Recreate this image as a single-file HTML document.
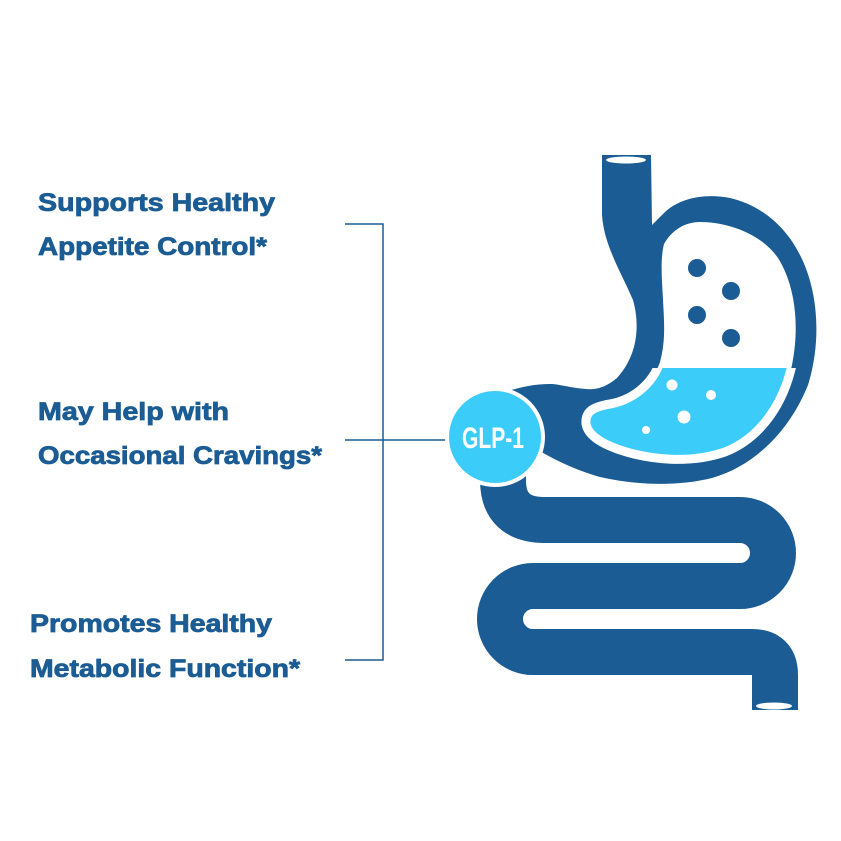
<!DOCTYPE html>
<html><head><meta charset="utf-8"><style>
html,body{margin:0;padding:0;background:#fff;}
svg{display:block;}
text{font-family:"Liberation Sans",sans-serif;font-weight:bold;}
</style></head><body>
<svg width="841" height="841" viewBox="0 0 841 841" xmlns="http://www.w3.org/2000/svg">
<rect width="841" height="841" fill="#fff"/>
<g fill="#1a5c93" stroke="#1a5c93" stroke-width="0.8" font-size="25">
<text x="38" y="211" textLength="237" lengthAdjust="spacingAndGlyphs">Supports Healthy</text>
<text x="38" y="255" textLength="229" lengthAdjust="spacingAndGlyphs">Appetite Control*</text>
<text x="38" y="420" textLength="191" lengthAdjust="spacingAndGlyphs">May Help with</text>
<text x="38" y="464" textLength="284" lengthAdjust="spacingAndGlyphs">Occasional Cravings*</text>
<text x="30" y="632" textLength="242" lengthAdjust="spacingAndGlyphs">Promotes Healthy</text>
<text x="30" y="677" textLength="270" lengthAdjust="spacingAndGlyphs">Metabolic Function*</text>
</g>
<g stroke="#1a5c93" stroke-width="1.5" fill="none">
<polyline points="345,224 383,224 383,660 345,660"/>
<line x1="345" y1="440" x2="450" y2="440"/>
</g>
<!-- intestine -->
<path d="M503,450 L503,480 Q503,520 545,520 L740,520 A33,33 0 0 1 740,586 L533,586 A33,33 0 0 0 533,652 L752,652 Q775,652 775,675 L775,710" fill="none" stroke="#1a5c93" stroke-width="46" stroke-linejoin="round"/>
<ellipse cx="774" cy="706" rx="18" ry="3.5" fill="#fff"/>
<!-- stomach outer -->
<path d="M602,155 L602,215 C604,245 620,270 633,300 C640,325 638,355 617,378 C605,388 595,390 586,389 C570,388 560,384 550,384 C535,384 520,387 505,392 L530,445 C550,458 575,470 600,477 C640,486 680,486 712,478 C755,466 790,430 808,385 C822,340 818,290 800,255 C785,225 760,205 730,198 C705,193 680,198 665,212 L652,225 L651,155 Z" fill="#1a5c93"/>
<ellipse cx="626" cy="160" rx="20" ry="3.5" fill="#fff"/>
<!-- inner white -->
<path d="M664,244 C672,230 685,222 700,222 C725,222 760,232 778,258 C795,285 800,325 792,365 C783,405 760,438 725,452 C690,464 650,460 620,450 C600,443 588,435 586,424 C585,412 592,407 610,404 C632,400 652,385 660,362 C666,340 664,320 663,300 C662,280 660,260 664,244 Z" fill="#fff"/>
<clipPath id="liq"><rect x="560" y="368" width="260" height="120"/></clipPath>
<path d="M664,244 C672,230 685,222 700,222 C725,222 760,232 778,258 C795,285 800,325 792,365 C783,405 760,438 725,452 C690,464 650,460 620,450 C600,443 588,435 586,424 C585,412 592,407 610,404 C632,400 652,385 660,362 C666,340 664,320 663,300 C662,280 660,260 664,244 Z" fill="#3cccf9" stroke="#fff" stroke-width="9" clip-path="url(#liq)"/>
<g fill="#1a5c93">
<circle cx="697" cy="268" r="9"/><circle cx="731" cy="291" r="9"/>
<circle cx="697" cy="315" r="9"/><circle cx="731" cy="338" r="9"/>
</g>
<g fill="#fff">
<circle cx="672" cy="385" r="5.5"/><circle cx="711" cy="395" r="5"/>
<circle cx="684" cy="417" r="6.5"/><circle cx="646" cy="430" r="4"/>
</g>
<!-- GLP-1 -->
<circle cx="495" cy="437" r="48" fill="#3cccf9" stroke="#fff" stroke-width="4"/>
<text x="493" y="448" fill="#fff" font-size="30" text-anchor="middle" textLength="62" lengthAdjust="spacingAndGlyphs" style="font-family:'Liberation Sans Narrow','Liberation Sans',sans-serif;">GLP-1</text>
</svg>
</body></html>
